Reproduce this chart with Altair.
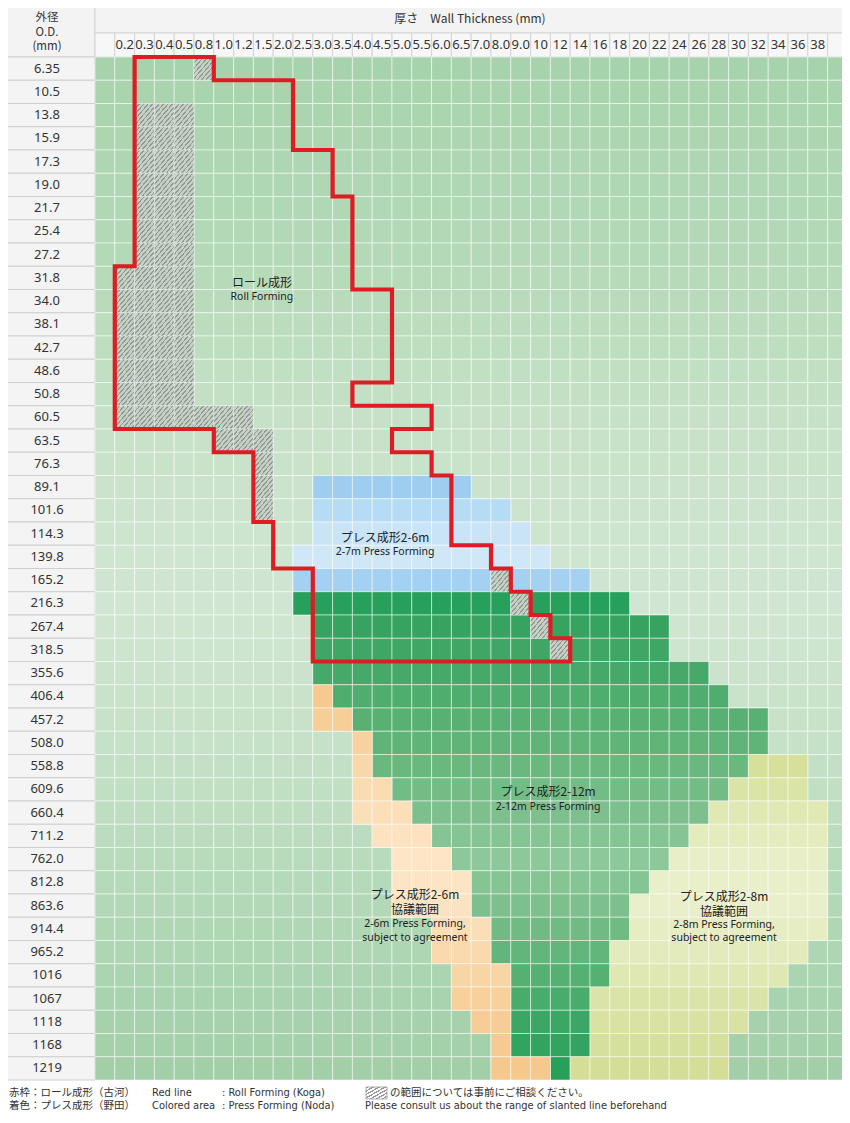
import altair as alt
import pandas as pd

# ---------------- data ----------------
THICKNESS = ["", "0.2", "0.3", "0.4", "0.5", "0.8", "1.0", "1.2", "1.5", "2.0", "2.5",
             "3.0", "3.5", "4.0", "4.5", "5.0", "5.5", "6.0", "6.5", "7.0", "8.0", "9.0",
             "10", "12", "14", "16", "18", "20", "22", "24", "26", "28", "30", "32", "34",
             "36", "38", ""]
OD = ["6.35", "10.5", "13.8", "15.9", "17.3", "19.0", "21.7", "25.4", "27.2", "31.8",
      "34.0", "38.1", "42.7", "48.6", "50.8", "60.5", "63.5", "76.3", "89.1", "101.6",
      "114.3", "139.8", "165.2", "216.3", "267.4", "318.5", "355.6", "406.4", "457.2",
      "508.0", "558.8", "609.6", "660.4", "711.2", "762.0", "812.8", "863.6", "914.4",
      "965.2", "1016", "1067", "1118", "1168", "1219"]

# (O.D., first thickness, last thickness)
PRESS_2_6 = [("89.1", "3.0", "6.5"), ("101.6", "3.0", "8.0"), ("114.3", "3.0", "9.0"),
             ("139.8", "2.5", "10"), ("165.2", "2.5", "14")]
PRESS_2_12 = [("216.3", "2.5", "18"), ("267.4", "3.0", "22"), ("318.5", "3.0", "22"),
              ("355.6", "3.0", "26"), ("406.4", "3.5", "28"), ("457.2", "4.0", "32"),
              ("508.0", "4.5", "32"), ("558.8", "4.5", "30"), ("609.6", "5.0", "28"),
              ("660.4", "5.5", "26"), ("711.2", "6.0", "24"), ("762.0", "6.5", "22"),
              ("812.8", "7.0", "20"), ("863.6", "7.0", "18"), ("914.4", "8.0", "18"),
              ("965.2", "8.0", "16"), ("1016", "9.0", "16"), ("1067", "9.0", "14"),
              ("1118", "9.0", "14"), ("1168", "9.0", "14"), ("1219", "12", "12")]
PRESS_2_6_AGREE = [("406.4", "3.0", "3.0"), ("457.2", "3.0", "3.5"), ("508.0", "4.0", "4.0"),
                   ("558.8", "4.0", "4.0"), ("609.6", "4.0", "4.5"), ("660.4", "4.0", "5.0"),
                   ("711.2", "4.5", "5.5"), ("762.0", "5.0", "6.0"), ("812.8", "5.0", "6.5"),
                   ("863.6", "5.0", "6.5"), ("914.4", "6.0", "7.0"), ("965.2", "6.0", "7.0"),
                   ("1016", "6.5", "8.0"), ("1067", "6.5", "8.0"), ("1118", "7.0", "8.0"),
                   ("1168", "8.0", "8.0"), ("1219", "8.0", "10")]
PRESS_2_8_AGREE = [("558.8", "32", "36"), ("609.6", "30", "36"), ("660.4", "28", "38"),
                   ("711.2", "26", "38"), ("762.0", "24", "38"), ("812.8", "22", "38"),
                   ("863.6", "20", "38"), ("914.4", "20", "38"), ("965.2", "18", "36"),
                   ("1016", "18", "34"), ("1067", "16", "32"), ("1118", "16", "30"),
                   ("1168", "16", "28"), ("1219", "14", "28")]
HATCHED = [("6.35", "0.8", "0.8"),
           ("13.8", "0.3", "0.5"), ("15.9", "0.3", "0.5"), ("17.3", "0.3", "0.5"),
           ("19.0", "0.3", "0.5"), ("21.7", "0.3", "0.5"), ("25.4", "0.3", "0.5"),
           ("27.2", "0.3", "0.5"),
           ("31.8", "0.2", "0.5"), ("34.0", "0.2", "0.5"), ("38.1", "0.2", "0.5"),
           ("42.7", "0.2", "0.5"), ("48.6", "0.2", "0.5"), ("50.8", "0.2", "0.5"),
           ("60.5", "0.2", "1.2"), ("63.5", "1.0", "1.5"),
           ("76.3", "1.5", "1.5"), ("89.1", "1.5", "1.5"), ("101.6", "1.5", "1.5"),
           ("165.2", "8.0", "8.0"), ("216.3", "9.0", "9.0"), ("267.4", "10", "10"),
           ("318.5", "12", "12")]

# Roll forming boundary (red line), as column / row edge indices
RED_COL = [2, 6, 6, 10, 10, 12, 12, 13, 13, 15, 15, 13, 13, 17, 17, 15, 15, 17, 17, 18, 18,
           20, 20, 21, 21, 22, 22, 23, 23, 24, 24, 11, 11, 9, 9, 8, 8, 6, 6, 1, 1, 2, 2, 6]
RED_ROW = [0, 0, 1, 1, 4, 4, 6, 6, 10, 10, 14, 14, 15, 15, 16, 16, 17, 17, 18, 18, 21,
           21, 22, 22, 23, 23, 24, 24, 25, 25, 26, 26, 22, 22, 20, 20, 17, 17, 16, 16, 9, 9, 0, 0]

# region annotations
JP_LABELS = ["ロール成形", "プレス成形2-6m", "プレス成形2-12m",
             "プレス成形2-6m", "協議範囲", "プレス成形2-8m", "協議範囲"]
JP_U = [8.43, 14.65, 22.88, 16.16, 16.16, 31.77, 31.77]
JP_V = [9.72, 20.69, 31.61, 36.04, 36.69, 36.13, 36.77]
EN_LABELS = ["Roll Forming", "2-7m Press Forming", "2-12m Press Forming",
             "2-6m Press Forming,", "subject to agreement",
             "2-8m Press Forming,", "subject to agreement"]
EN_U = [8.43, 14.65, 22.88, 16.16, 16.16, 31.77, 31.77]
EN_V = [10.32, 21.29, 32.26, 37.29, 37.89, 37.33, 37.89]

HEADER_OD = ["外径", "O.D.", "(mm)"]
TITLE = "厚さ　Wall Thickness (mm)"

NOTE_JP = ["赤枠：ロール成形（古河）", "着色：プレス成形（野田）", "の範囲については事前にご相談ください。"]
NOTE_EN = ["Red line", ": Roll Forming (Koga)", "Colored area", ": Press Forming (Noda)",
           "Please consult us about the range of slanted line beforehand"]

# ---------------- layout (reference pixels -> grid units) ----------------
COLW, ROWH = 19.8, 23.25
GX, GY = 95, 57            # top-left corner of the grid
W, H = 850, 1111


def U(px):
    return (px - GX) / COLW


def V(py):
    return (py - GY) / ROWH


X0, X1 = U(0), U(W)
Y0, Y1 = V(0), V(H)
LABEL_TOP = V(33)

HEADER_OD_V = [V(18), V(32.5), V(46.5)]
NOTE_JP_U = [U(9), U(9), U(390)]
NOTE_JP_V = [V(1093), V(1106), V(1093)]
NOTE_EN_U = [U(152), U(222), U(152), U(222), U(365)]
NOTE_EN_V = [V(1093), V(1093), V(1106), V(1106), V(1106)]

xs = alt.Scale(domain=[X0, X1], nice=False, zero=False)
ys = alt.Scale(domain=[Y0, Y1], nice=False, zero=False, reverse=True)

col_index = {t: i for i, t in enumerate(THICKNESS) if t}
row_index = {d: j for j, d in enumerate(OD)}
NCOL, NROW = len(THICKNESS), len(OD)


def cells(ranges):
    recs = []
    for od, t0, t1 in ranges:
        j = row_index[od]
        for i in range(col_index[t0], col_index[t1] + 1):
            recs.append({"x": i, "x2": i + 1, "y": j, "y2": j + 1, "row": j})
    return pd.DataFrame(recs)


def rect_layer(df, **mark):
    return alt.Chart(df).mark_rect(**mark).encode(
        x=alt.X("x:Q", scale=xs, axis=None), x2="x2:Q",
        y=alt.Y("y:Q", scale=ys, axis=None), y2="y2:Q")


def text_layer(df, **mark):
    return alt.Chart(df).mark_text(**mark).encode(
        x=alt.X("u:Q", scale=xs, axis=None),
        y=alt.Y("v:Q", scale=ys, axis=None),
        text="t:N")


def region_layer(df, dom, rng):
    return rect_layer(df, stroke="white", strokeOpacity=0.5, strokeWidth=1).encode(
        fill=alt.Fill("row:Q", legend=None,
                      scale=alt.Scale(domain=dom, range=rng, interpolate="rgb")))


def stripes(n, c1, c2, frac):
    stops = []
    for k in range(n):
        a, b, c = k / n, (k + frac) / n, (k + 1) / n
        stops += [alt.GradientStop(offset=a, color=c1), alt.GradientStop(offset=b, color=c1),
                  alt.GradientStop(offset=b, color=c2), alt.GradientStop(offset=c, color=c2)]
    return alt.Gradient(gradient="linear", stops=stops, x1=0, y1=0, x2=1, y2=1)


FONT_JP = "Noto Sans CJK JP"
FONT_NUM = "Noto Sans"
FONT_NARROW = "Liberation Sans Narrow, DejaVu Sans Condensed, Noto Sans"

# ---------------- layers ----------------
all_cells = pd.DataFrame([{"x": i, "x2": i + 1, "y": j, "y2": j + 1, "row": j}
                          for j in range(NROW) for i in range(NCOL)])
base = region_layer(all_cells, [0, 8, 16, 23, 30, 37, 43],
                    ["#a7d3ac", "#b4d9b7", "#c8e2c9", "#d1e6d2", "#c3e0c6", "#b0d7b4", "#a2cea8"])
blue = region_layer(cells(PRESS_2_6), [18, 19, 20, 21, 22],
                    ["#9ecdf0", "#b6dbf4", "#c9e4f6", "#cfe7f7", "#a4d1f1"])
green = region_layer(cells(PRESS_2_12), [23, 24, 26, 29, 32, 34, 36, 39, 41, 43],
                     ["#26a05a", "#37a361", "#47a969", "#60b477", "#7dc08d", "#8cc899",
                      "#7dc08d", "#55b072", "#3ba764", "#27a05a"])
orange = region_layer(cells(PRESS_2_6_AGREE), [27, 29, 31, 34, 36, 38, 40, 43],
                      ["#f6ca8f", "#f7d29f", "#f9dcb2", "#fde5c5", "#fbe3c2", "#f9d9ad",
                       "#f7d09c", "#f5c88c"])
yellow = region_layer(cells(PRESS_2_8_AGREE), [30, 32, 34, 36, 38, 40, 43],
                      ["#d6e09b", "#e0e8b3", "#e8efc8", "#e9efca", "#e3eabb", "#dbe4a8",
                       "#d4de97"])
hatch = rect_layer(cells(HATCHED), fill=stripes(9, "#959995", "#c4d2c5", 0.34),
                   stroke="white", strokeOpacity=0.35, strokeWidth=1)

red_df = pd.DataFrame({"x": RED_COL, "y": RED_ROW, "o": range(len(RED_COL))})
red = alt.Chart(red_df).mark_line(color="#dd1c24", strokeWidth=4.2, strokeJoin="miter",
                                  strokeCap="butt").encode(
    x=alt.X("x:Q", scale=xs, axis=None), y=alt.Y("y:Q", scale=ys, axis=None), order="o:Q")

# header backgrounds
hdr_left = rect_layer(pd.DataFrame([{"x": X0, "x2": 0, "y": Y0, "y2": 0}]),
                      fill="#f3f3f3", stroke="#cfcfcf", strokeWidth=1)
hdr_top = rect_layer(pd.DataFrame([{"x": 0, "x2": X1, "y": Y0, "y2": LABEL_TOP}]),
                     fill="#f3f3f3", stroke="#d5d5d5", strokeWidth=1)
lab_cells = pd.DataFrame([{"x": i, "x2": min(i + 1, X1), "y": LABEL_TOP, "y2": 0}
                          for i in range(NCOL + 1)])
hdr_lab = rect_layer(lab_cells, fill="#f7f7f7", stroke="#d5d5d5", strokeWidth=1)
od_cells = pd.DataFrame([{"x": X0, "x2": 0, "y": j, "y2": j + 1} for j in range(NROW)])
hdr_od = rect_layer(od_cells, fill="#f4f4f4", stroke="#cfcfcf", strokeWidth=1)

th_df = pd.DataFrame([{"u": i + 0.5, "v": LABEL_TOP / 2, "t": t}
                      for i, t in enumerate(THICKNESS) if t])
th_text = text_layer(th_df, font=FONT_NUM, fontSize=13, color="#333333", baseline="middle")
od_df = pd.DataFrame({"u": [U(47)] * NROW, "v": [j + 0.5 for j in range(NROW)], "t": OD})
od_text = text_layer(od_df, font=FONT_NUM, fontSize=13, color="#333333", baseline="middle")
hod_df = pd.DataFrame({"u": [U(47)] * 3, "v": HEADER_OD_V, "t": HEADER_OD})
hod_text = text_layer(hod_df, font=FONT_JP, fontSize=11.5, color="#333333", baseline="middle")
title_df = pd.DataFrame({"u": [U(470)], "v": [V(19)], "t": [TITLE]})
title_text = text_layer(title_df, font=FONT_JP, fontSize=12, color="#333333", baseline="middle")

jp_df = pd.DataFrame({"u": JP_U, "v": JP_V, "t": JP_LABELS})
jp_text = text_layer(jp_df, font=FONT_JP, fontSize=12, color="#222222", baseline="middle")
en_df = pd.DataFrame({"u": EN_U, "v": EN_V, "t": EN_LABELS})
en_text = text_layer(en_df, font=FONT_NUM, fontSize=10.5, color="#222222", baseline="middle")

# footnote
icon = rect_layer(pd.DataFrame([{"x": U(366), "x2": U(387), "y": V(1087), "y2": V(1099)}]),
                  fill=stripes(7, "#9a9a9a", "#ffffff", 0.4), stroke="#9a9a9a", strokeWidth=0.8)
njp_df = pd.DataFrame({"u": NOTE_JP_U, "v": NOTE_JP_V, "t": NOTE_JP})
njp_text = text_layer(njp_df, font=FONT_JP, fontSize=10.5, color="#333333",
                      baseline="middle", align="left")
nen_df = pd.DataFrame({"u": NOTE_EN_U, "v": NOTE_EN_V, "t": NOTE_EN})
nen_text = text_layer(nen_df, font=FONT_NARROW, fontSize=11, color="#333333",
                      baseline="middle", align="left")

chart = alt.layer(
    hdr_left, hdr_top, hdr_lab, hdr_od,
    base, blue, green, orange, yellow, hatch, red,
    th_text, od_text, hod_text, title_text, jp_text, en_text,
    icon, njp_text, nen_text,
).resolve_scale(fill="independent").properties(
    width=W, height=H, autosize=alt.AutoSizeParams(type="none"),
    padding={"left": -8, "top": -8, "right": -8, "bottom": 0},
    background="white",
).configure_view(strokeWidth=0)

chart.save("out.html", embed_options={"renderer": "svg", "actions": False})
